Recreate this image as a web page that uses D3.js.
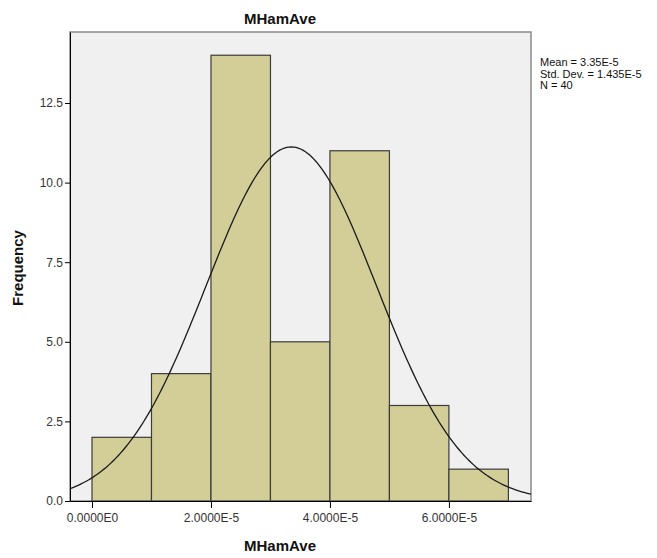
<!DOCTYPE html>
<html lang="en">
<head>
  <meta charset="UTF-8">
  <title>MHamAve</title>
  <script src="https://d3js.org/d3.v7.min.js"></script>
  <style>
    body {
      margin: 0;
      background: #fff;
      font-family: "Liberation Sans", Arial, sans-serif;
    }
    svg { display: block; }
  </style>
</head>
<body>
  <svg id="chart" width="657" height="558"></svg>

  <script>
    // Histogram bins (lower edge, upper edge) and counts
    const binStarts = [0, 1e-5, 2e-5, 3e-5, 4e-5, 5e-5, 6e-5];
    const binWidth = 1e-5;
    const counts = [2, 4, 14, 5, 11, 3, 1];

    // Summary stats shown at the right
    const mean = 3.35e-5;
    const stdDev = 1.435e-5;
    const n = 40;
    const statLines = ["Mean = 3.35E-5", "Std. Dev. = 1.435E-5", "N = 40"];

    const xTicks = [0, 2e-5, 4e-5, 6e-5];
    const xTickLabels = ["0.0000E0", "2.0000E-5", "4.0000E-5", "6.0000E-5"];
    const yTicks = [0, 2.5, 5, 7.5, 10, 12.5];

    const svg = d3.select("#chart");
    const margin = { top: 32, right: 126, bottom: 57, left: 70 };
    const width = 657 - margin.left - margin.right;
    const height = 558 - margin.top - margin.bottom;

    const g = svg.append("g")
      .attr("transform", `translate(${margin.left},${margin.top})`);

    const x = d3.scaleLinear()
      .domain([-0.37e-5, 7.38e-5])
      .range([0, width]);

    const y = d3.scaleLinear()
      .domain([0, 14.73])
      .range([height, 0]);

    // plot background + frame
    g.append("rect")
      .attr("width", width)
      .attr("height", height)
      .attr("fill", "#f0f0f0")
      .attr("stroke", "#8a8a8a")
      .attr("stroke-width", 1.5);

    // bars
    g.selectAll("rect.bar")
      .data(counts)
      .enter().append("rect")
      .attr("class", "bar")
      .attr("x", (d, i) => x(binStarts[i]))
      .attr("y", d => y(d))
      .attr("width", (d, i) => x(binStarts[i] + binWidth) - x(binStarts[i]))
      .attr("height", d => height - y(d))
      .attr("fill", "#d3ce97")
      .attr("stroke", "#3c3c3c")
      .attr("stroke-width", 1.2);

    // fitted normal curve from mean / sd
    const density = v => n * binWidth / (stdDev * Math.sqrt(2 * Math.PI)) *
      Math.exp(-0.5 * Math.pow((v - mean) / stdDev, 2));
    const curveXs = d3.range(0, 201).map(i => x.domain()[0] + i * (x.domain()[1] - x.domain()[0]) / 200);
    g.append("path")
      .datum(curveXs)
      .attr("fill", "none")
      .attr("stroke", "#1a1a1a")
      .attr("stroke-width", 1.3)
      .attr("d", d3.line().x(d => x(d)).y(d => y(density(d))));

    // y axis
    const yAxis = g.append("g")
      .call(d3.axisLeft(y).tickValues(yTicks).tickFormat(d3.format(".1f")).tickSize(5).tickSizeOuter(0));
    yAxis.select(".domain").attr("stroke", "#000");
    yAxis.selectAll("text")
      .attr("font-family", "Liberation Sans, Arial, sans-serif")
      .attr("font-size", 12)
      .attr("fill", "#333")
      .attr("x", -7);

    // x axis
    const xAxis = g.append("g")
      .attr("transform", `translate(0,${height})`)
      .call(d3.axisBottom(x).tickValues(xTicks).tickFormat((d, i) => xTickLabels[i]).tickSize(7).tickSizeOuter(0));
    xAxis.select(".domain").attr("stroke", "#000");
    xAxis.selectAll("text")
      .attr("font-family", "Liberation Sans, Arial, sans-serif")
      .attr("font-size", 12)
      .attr("fill", "#333")
      .attr("y", 12);

    // title
    svg.append("text")
      .attr("x", 280)
      .attr("y", 24)
      .attr("text-anchor", "middle")
      .attr("font-size", 15)
      .attr("font-weight", "bold")
      .attr("fill", "#111")
      .text("MHamAve");

    // x axis title
    svg.append("text")
      .attr("x", 280)
      .attr("y", 551)
      .attr("text-anchor", "middle")
      .attr("font-size", 15)
      .attr("font-weight", "bold")
      .attr("fill", "#111")
      .text("MHamAve");

    // y axis title
    svg.append("text")
      .attr("transform", "translate(23,268) rotate(-90)")
      .attr("text-anchor", "middle")
      .attr("font-size", 15)
      .attr("font-weight", "bold")
      .attr("fill", "#111")
      .text("Frequency");

    // stats box
    svg.append("g")
      .selectAll("text")
      .data(statLines)
      .enter().append("text")
      .attr("x", 540)
      .attr("y", (d, i) => 66 + i * 11.5)
      .attr("font-size", 11)
      .attr("fill", "#111")
      .text(d => d);
  </script>
</body>
</html>
